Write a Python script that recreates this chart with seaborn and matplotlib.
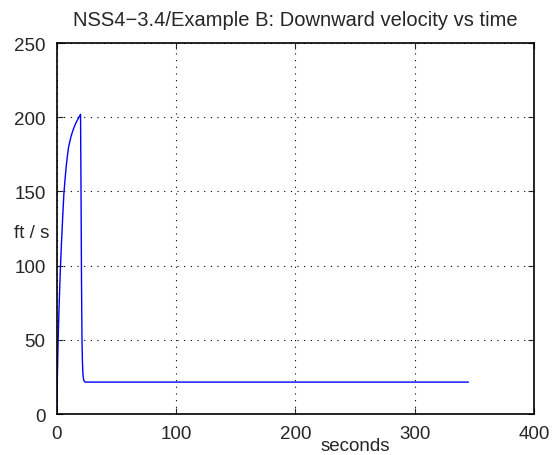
import pandas as pd
import matplotlib.pyplot as plt
import seaborn as sns

# Datos (tiempo en s, velocidad en ft/s)
t = [0, 0.5, 1, 1.5, 2, 3, 4, 5, 6, 7, 8, 9, 10, 12, 14, 16, 18, 20,
     20.4, 20.8, 21.2, 21.6, 22, 22.5, 23, 23.5, 24, 30, 100, 200, 300, 345]
v = [0, 22, 42, 58, 72, 96, 115, 132, 148, 158, 167, 174, 180, 187, 192, 196, 199, 202,
     150, 90, 50, 35, 27, 23.5, 22.2, 21.7, 21.5, 21.5, 21.5, 21.5, 21.5, 21.5]

data = pd.DataFrame({'t': t, 'v': v})

sns.set_style('ticks')
plt.rcParams['font.family'] = ['Liberation Sans', 'DejaVu Sans']

fig = plt.figure(figsize=(5.53, 4.56), dpi=100)
ax = fig.add_axes([0.1025, 0.0899, 0.8631, 0.8136])
sns.lineplot(data=data, x='t', y='v', color='blue', linewidth=1, ax=ax)

ax.set_xlim(0, 400)
ax.set_ylim(0, 250)
ax.set_xticks([0, 100, 200, 300, 400])
ax.set_yticks([0, 50, 100, 150, 200, 250])
ax.grid(True, linestyle=(0, (1, 5)), color='black', linewidth=0.8)
ax.tick_params(direction='in', labelsize=13.5, length=4, top=True, right=True)
ax.tick_params(axis='x', pad=8)
ax.tick_params(axis='y', pad=8)
for s in ax.spines.values():
    s.set_linewidth(1.2)
    s.set_color('black')

ax.set_title('NSS4\u22123.4/Example B: Downward velocity vs time', fontsize=14.5, pad=13)
ax.set_xlabel('seconds', fontsize=13.5, va='center')
ax.xaxis.set_label_coords(0.625, -0.085)
ax.set_ylabel('ft / s', fontsize=13.5, rotation=0, ha='center', va='center')
ax.yaxis.set_label_coords(-0.052, 0.49)

fig.savefig('out.png', dpi=100)
